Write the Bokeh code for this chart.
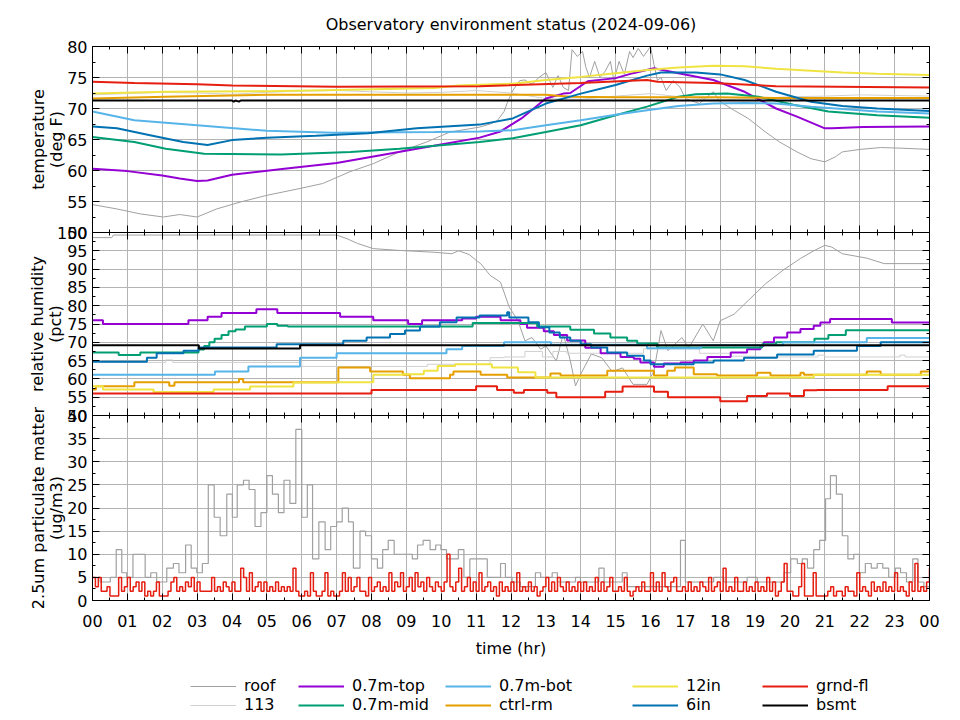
from bokeh.plotting import figure
from bokeh.models import Range1d, FixedTicker, LinearAxis, Legend, LegendItem
from bokeh.layouts import column
from bokeh.embed import file_html
from bokeh.resources import INLINE

FONT = "DejaVu Sans"
TITLE = "Observatory environment status (2024-09-06)"

# ---------------- series names / colours ----------------
NAMES = ["roof", "113", "0.7m-top", "0.7m-mid", "0.7m-bot", "ctrl-rm", "12in", "6in", "grnd-fl", "bsmt"]
COLORS = ["#a0a0a0", "#d0d0d0", "#9400d3", "#009e73", "#56b4e9", "#e69f00", "#f0e442", "#0072b2", "#e51e10", "#000000"]
WIDTHS = [1, 1, 2, 2, 2, 2, 2, 2, 2, 2]

# ---------------- axis ticks ----------------
HOUR_TICKS = list(range(25))
HOUR_MINOR = [h + 0.5 for h in range(24)]
HOUR_LABELS = {h: "%02d" % (h % 24) for h in HOUR_TICKS}
TEMP_TICKS = [50, 55, 60, 65, 70, 75, 80]
HUM_TICKS = [50, 55, 60, 65, 70, 75, 80, 85, 90, 95, 100]
PM_TICKS = [0, 5, 10, 15, 20, 25, 30, 35, 40]

# ---------------- temperature (deg F): (hour, value) ----------------
ROOF_T = [(0, 54.5), (0.7, 53.8), (1.37, 53.0), (2.03, 52.5), (2.5, 52.9), (3.0, 52.5), (3.56, 53.8),
          (4.23, 54.9), (5.0, 56.0), (5.95, 57.1), (6.6, 57.9), (7.38, 59.8), (8.05, 61.1), (8.8, 63.0),
          (9.58, 64.6), (10.25, 66.2), (11.1, 67.0), (11.4, 67.5), (11.6, 68.0), (11.8, 69.5), (11.9, 71.0),
          (12.05, 72.9), (12.25, 74.5), (12.4, 74.6), (12.6, 73.9), (12.8, 75.0), (13.0, 75.8), (13.2, 73.4),
          (13.35, 75.3), (13.5, 73.4), (13.65, 72.9), (13.75, 79.5), (13.9, 78.4), (14.05, 79.2), (14.15, 76.6),
          (14.25, 75.0), (14.4, 77.6), (14.55, 75.0), (14.7, 76.0), (14.85, 77.6), (14.95, 74.5), (15.1, 77.6),
          (15.25, 75.5), (15.4, 79.2), (15.5, 78.2), (15.65, 79.7), (15.8, 78.4), (16.0, 80.0), (16.1, 77.1),
          (16.2, 74.5), (16.3, 75.0), (16.45, 72.9), (16.65, 74.5), (16.85, 73.4), (17.0, 71.6), (17.4, 70.8),
          (17.8, 72.7), (18.0, 71.1), (18.4, 69.7), (18.8, 68.4), (19.3, 66.2), (19.7, 64.6), (20.2, 63.0),
          (20.6, 61.9), (21.0, 61.4), (21.3, 62.2), (21.5, 63.0), (22.0, 63.4), (22.6, 63.7), (23.2, 63.6),
          (24.0, 63.4)]
R113_T = [(0, 72.2), (1, 72.4), (2, 72.6), (3, 72.5), (4, 72.3), (5, 72.6), (6, 72.8), (7, 72.9), (8, 72.7),
          (9, 72.5), (10, 72.6), (11, 72.9), (12, 72.5), (13, 71.6), (14, 71.5), (15, 72.0), (16, 72.4),
          (17, 71.8), (18, 71.4), (19, 71.6), (20, 71.9), (21, 72.0), (22, 72.2), (23, 72.1), (24, 72.0)]
TOP_T = [(0, 60.3), (1.0, 59.9), (2.0, 59.2), (2.5, 58.7), (3.0, 58.3), (3.3, 58.4), (4.0, 59.3), (5.5, 60.3),
         (7.0, 61.2), (8.3, 62.5), (9.3, 63.5), (10.2, 64.4), (11.1, 65.3), (11.7, 66.3), (12.3, 68.4),
         (13.0, 71.6), (13.5, 72.4), (13.7, 72.5), (14.2, 74.4), (15.0, 74.9), (15.5, 75.7), (16.1, 76.5),
         (16.8, 75.7), (17.8, 74.6), (18.7, 72.7), (19.6, 70.0), (20.2, 68.7), (21.0, 66.8), (21.2, 66.8),
         (22.1, 67.0), (24.0, 67.1)]
MID_T = [(0, 65.4), (1.2, 64.6), (2.1, 63.5), (3.2, 62.7), (5.4, 62.6), (7.4, 63.0), (8.8, 63.5), (11.1, 64.6),
         (12.05, 65.2), (13.0, 66.2), (14.0, 67.3), (15.0, 68.9), (15.9, 70.3), (16.8, 71.9), (17.3, 72.3),
         (18.2, 72.4), (19.1, 71.9), (20.1, 70.6), (21.1, 69.5), (22.5, 68.9), (24.0, 68.5)]
BOT_T = [(0, 69.5), (1.2, 68.1), (3.0, 67.3), (5.0, 66.4), (6.9, 66.1), (9.8, 66.2), (11.1, 66.3), (12.05, 66.5),
         (13.0, 67.3), (14.0, 68.1), (15.0, 69.0), (15.9, 69.7), (16.8, 70.4), (17.8, 70.8), (18.7, 70.9),
         (19.6, 70.8), (20.6, 70.3), (21.5, 69.9), (22.5, 69.5), (24.0, 69.2)]
CTRL_T = [(0, 71.6), (2.1, 71.9), (5.0, 72.2), (11.1, 72.2), (13.0, 72.2), (13.7, 71.9), (15.0, 71.8),
          (17.8, 71.8), (19.6, 71.7), (24.0, 71.7)]
IN12_T = [(0, 72.4), (2.1, 72.7), (5.0, 72.8), (7.0, 73.0), (9.8, 73.3), (10.5, 73.7), (12.05, 74.0),
          (13.0, 74.6), (14.0, 75.1), (15.0, 75.7), (15.9, 76.2), (16.8, 76.6), (17.8, 76.9), (18.7, 76.8),
          (19.6, 76.4), (20.6, 76.1), (21.5, 75.8), (22.5, 75.6), (24.0, 75.4)]
IN6_T = [(0, 67.1), (0.7, 66.8), (1.65, 65.7), (2.6, 64.6), (3.3, 64.1), (4.0, 64.9), (5.0, 65.3), (6.4, 65.6),
         (7.9, 66.0), (9.3, 66.8), (11.1, 67.4), (12.05, 68.4), (13.0, 70.8), (14.0, 72.4), (15.0, 73.8),
         (15.9, 75.3), (16.3, 75.8), (17.3, 75.8), (18.0, 75.5), (18.7, 74.6), (19.6, 72.7), (20.6, 71.1),
         (21.5, 70.4), (22.5, 70.0), (24.0, 69.6)]
GRND_T = [(0, 74.3), (1.2, 74.1), (3.0, 73.9), (4.0, 73.7), (7.0, 73.5), (11.1, 73.6), (14.0, 74.1),
          (15.9, 74.6), (16.2, 74.3), (17.8, 74.1), (19.6, 73.6), (24.0, 73.4)]
BSMT_T = [(0, 71.3), (4.0, 71.3), (4.05, 71.1), (4.1, 71.3), (4.2, 71.1), (4.25, 71.3), (24.0, 71.3)]

# ---------------- relative humidity (pct): (hour, value) ----------------
ROOF_H = [(0, 98.6), (0.55, 98.6), (0.6, 99.3), (7.0, 99.3), (7.3, 98.3), (7.6, 97.0), (8.05, 95.6),
          (8.8, 95.1), (9.8, 94.6), (10.3, 94.2), (10.5, 95.0), (10.8, 94.0), (11.0, 92.4), (11.13, 91.5),
          (11.4, 88.3), (11.7, 86.4), (11.95, 79.6), (12.2, 75.9), (12.4, 70.4), (12.6, 71.3), (12.85, 68.1),
          (13.0, 69.0), (13.3, 64.9), (13.5, 72.3), (13.7, 65.0), (13.85, 58.1), (14.0, 61.3), (14.3, 66.8),
          (14.6, 65.8), (14.9, 62.0), (15.2, 63.0), (15.5, 58.5), (15.9, 58.5), (16.1, 62.2), (16.3, 73.2),
          (16.5, 67.7), (16.9, 71.3), (17.1, 68.5), (17.5, 75.0), (17.8, 70.4), (18.0, 75.9), (18.4, 77.7),
          (18.8, 81.4), (19.3, 86.0), (19.8, 89.7), (20.3, 92.9), (20.7, 95.1), (21.0, 96.5), (21.2, 96.0),
          (21.5, 94.2), (22.2, 93.0), (22.7, 91.5), (24.0, 91.5)]
R113_H = [(0, 65.0), (0.25, 64.5), (2.0, 64.5), (2.1, 65.2), (2.3, 64.5), (6.0, 63.4), (9.5, 63.4), (9.6, 64.0),
          (11.0, 64.0), (11.4, 65.8), (11.8, 66.0), (12.4, 67.5), (12.9, 66.0), (13.2, 67.5), (13.6, 67.0),
          (15.3, 67.0), (15.8, 68.2), (17.4, 67.0), (18.3, 66.2), (19.0, 66.0), (20.8, 66.5), (21.0, 66.0),
          (23.0, 66.0), (23.15, 66.5), (23.3, 66.0), (24.0, 66.0)]
TOP_H = [(0, 76), (0.3, 75), (2.75, 76), (3.3, 77), (3.7, 78), (4.7, 79), (5.3, 78), (7.1, 77), (8.05, 76),
         (9.05, 75), (9.45, 76), (10.6, 76.5), (11.0, 77), (11.7, 76), (12.27, 75), (12.46, 74), (12.94, 73),
         (13.23, 72), (13.61, 70.5), (14.13, 68.5), (14.57, 67), (15.14, 66), (15.52, 65.5), (15.71, 64.5),
         (16.1, 63.3), (16.38, 64.2), (16.86, 64.5), (17.24, 65), (17.63, 66), (18.3, 67.2), (18.77, 68.1),
         (19.15, 69), (19.25, 70), (19.54, 71.3), (19.92, 72.7), (20.3, 73.6), (20.68, 74.5), (20.87, 75.4),
         (21.15, 76.4), (22.92, 75.4), (24.0, 75.4)]
MID_H = [(0, 67.2), (0.75, 66.5), (1.37, 67.2), (3.04, 68), (3.2, 69), (3.35, 70), (3.5, 71), (3.7, 72),
         (3.9, 73), (4.1, 73.5), (4.37, 74.3), (5.0, 75), (5.3, 74.5), (5.6, 74.3), (10.9, 75.3), (12.75, 74.3),
         (13.7, 73.4), (14.38, 72.4), (14.85, 71.3), (15.33, 70.4), (15.62, 69.7), (16.19, 68.6), (19.2, 69.5),
         (19.6, 70), (20.7, 71), (21.1, 72), (21.6, 73.3), (24.0, 73.3)]
BOT_H = [(0, 61.1), (3.51, 62), (4.47, 63.4), (5.95, 65.8), (7.0, 67), (10.15, 68.1), (10.6, 69), (11.8, 70),
         (13.15, 69.3), (15.9, 68.4), (17.45, 69.2), (19.8, 70), (22.2, 71.2), (24.0, 71.2)]
CTRL_H = [(0, 57.1), (0.1, 58), (1.2, 59.1), (2.2, 58.1), (2.35, 59.1), (4.2, 60), (4.32, 59.1), (7.05, 63.1),
          (7.96, 62), (8.9, 61.1), (9.1, 60.2), (10.25, 61.1), (10.35, 62), (11.13, 61.1), (11.89, 60.4),
          (13.13, 61.5), (13.42, 60.9), (14.76, 62.2), (16.1, 60.9), (16.48, 62.2), (16.7, 63.1), (17.24, 61.3),
          (17.91, 60.9), (19.06, 61.7), (19.44, 60.9), (20.3, 61.7), (20.4, 61.1), (22.2, 62), (22.6, 61.1),
          (23.75, 62), (24.0, 62)]
IN12_H = [(0, 58), (0.3, 57.1), (1.75, 56.4), (3.47, 57.1), (4.52, 57.9), (5.76, 59), (7.0, 59.1), (8.05, 61.1),
          (8.9, 61.3), (9.5, 62.2), (9.9, 63.5), (10.4, 64), (11.45, 63.1), (12.2, 61.8), (12.7, 60.4),
          (20.68, 61.1), (24.0, 61.1)]
IN6_H = [(0, 64.7), (1.56, 65.8), (1.84, 67), (2.61, 67.7), (3.04, 68.6), (5.28, 69.5), (7.19, 70.4),
         (7.86, 71.3), (8.53, 72.3), (8.96, 73.2), (9.39, 74.3), (9.96, 75.5), (10.44, 76.8), (11.1, 77.3),
         (11.89, 78.2), (11.95, 76.8), (12.5, 75.5), (12.8, 74.1), (13.1, 72.7), (13.4, 71.3), (13.7, 70.4),
         (14.0, 69.5), (14.3, 68.6), (14.76, 67.2), (15.33, 66.3), (15.81, 65), (16.0, 64), (17.24, 64.5),
         (17.81, 65), (18.68, 65.8), (19.63, 66.7), (20.68, 67.7), (21.92, 69), (22.6, 70), (24.0, 70)]
GRND_H = [(0, 56), (8.0, 57), (11.0, 58), (11.6, 57), (12.08, 56.2), (12.37, 57), (13.04, 56.2), (13.3, 55),
          (14.7, 56.5), (15.2, 57.9), (16.1, 56.5), (16.5, 55), (18.0, 53.9), (18.77, 55.3), (19.34, 56),
          (20.0, 55.3), (20.4, 56.9), (20.77, 57), (22.8, 58), (24.0, 58)]
BSMT_H = [(0, 69.2), (3.05, 68.3), (5.95, 69.2), (24.0, 69.2)]

# ---------------- 2.5um particulate matter (ug/m3) ----------------
ROOF_PM = [(0, 5), (0.22, 4), (0.51, 5), (0.68, 11), (0.84, 6), (0.98, 5), (1.16, 10), (1.51, 5), (1.67, 6),
           (1.84, 4), (2.13, 7), (2.32, 8), (2.48, 6), (2.67, 12), (2.83, 7), (2.99, 6), (3.15, 8), (3.32, 25),
           (3.49, 18), (3.66, 14), (3.85, 23), (4.01, 18), (4.15, 25), (4.33, 26), (4.49, 24), (4.66, 16),
           (4.83, 19), (5.0, 27), (5.16, 23), (5.33, 19), (5.49, 26), (5.66, 21), (5.83, 37), (6.0, 18),
           (6.16, 25), (6.31, 9), (6.49, 17), (6.67, 11), (6.83, 16), (7.0, 17), (7.16, 20), (7.34, 17),
           (7.48, 7), (7.67, 15), (7.83, 14), (8.0, 9), (8.17, 7), (8.32, 11), (8.48, 13), (8.65, 10), (9.17, 9),
           (9.32, 12), (9.48, 13), (9.68, 11), (9.84, 12), (9.99, 11), (10.15, 9), (10.49, 11), (10.65, 5),
           (10.82, 9), (11.32, 5), (11.7, 8), (11.84, 5), (12.03, 4), (12.27, 3), (12.7, 6), (12.85, 5),
           (13.18, 6), (13.33, 4), (13.85, 5), (13.99, 4), (14.52, 7), (14.67, 4), (15.19, 6), (15.33, 3),
           (16.86, 13), (17.0, 4), (17.81, 5), (18.1, 4), (18.77, 5), (19.06, 4), (19.83, 6), (20.02, 9),
           (20.21, 8), (20.35, 9), (20.5, 7), (20.68, 11), (20.85, 13), (21.02, 22), (21.16, 27), (21.33, 23),
           (21.5, 14), (21.66, 9), (21.83, 10), (21.99, 6), (22.16, 8), (22.33, 7), (22.5, 8), (22.66, 7),
           (22.83, 5), (23.02, 7), (23.17, 6), (23.34, 4), (23.52, 9), (23.67, 4), (23.84, 3), (24.0, 3)]
# grnd-fl PM, one reading every 5 minutes (12 per hour), hours 00..23, then midnight
GRND_PM = [
    5, 3, 5, 2, 2, 3, 1, 1, 1, 5, 2, 3,
    5, 2, 3, 4, 2, 4, 1, 2, 1, 2, 4, 1,
    1, 1, 2, 4, 5, 2, 3, 2, 4, 3, 5, 2,
    4, 2, 2, 2, 2, 5, 2, 3, 2, 4, 3, 2,
    4, 2, 2, 7, 5, 2, 6, 2, 3, 4, 2, 4,
    2, 3, 2, 4, 2, 3, 2, 3, 2, 7, 2, 1,
    1, 2, 1, 6, 2, 1, 1, 2, 6, 1, 2, 1,
    1, 2, 6, 2, 5, 2, 3, 5, 2, 2, 1, 5,
    2, 3, 4, 2, 3, 2, 6, 2, 4, 3, 6, 2,
    3, 5, 2, 6, 3, 4, 2, 5, 3, 2, 4, 3,
    2, 4, 10, 3, 2, 4, 7, 2, 3, 5, 2, 4,
    2, 6, 2, 3, 4, 2, 3, 1, 4, 2, 3, 2,
    4, 2, 6, 2, 3, 2, 4, 2, 3, 1, 2, 3,
    5, 2, 4, 2, 5, 3, 2, 4, 2, 3, 2, 4,
    2, 4, 2, 3, 2, 5, 2, 4, 2, 3, 5, 2,
    2, 3, 2, 5, 2, 1, 2, 3, 2, 4, 2, 2,
    6, 2, 4, 2, 6, 3, 2, 4, 5, 2, 2, 3,
    2, 4, 2, 3, 2, 4, 3, 2, 5, 2, 3, 4,
    2, 7, 2, 3, 2, 5, 2, 2, 4, 2, 3, 2,
    4, 2, 3, 2, 5, 2, 4, 1, 2, 4, 8, 2,
    2, 1, 1, 3, 8, 1, 1, 1, 6, 1, 1, 1,
    1, 2, 3, 1, 2, 2, 1, 3, 2, 2, 1, 6,
    2, 3, 2, 1, 4, 2, 3, 2, 4, 2, 3, 2,
    6, 2, 3, 2, 1, 4, 2, 8, 2, 3, 2, 4,
    7,
]
GRND_PM_HR = [i / 12 for i in range(len(GRND_PM))]

TEMP_SERIES = [ROOF_T, R113_T, TOP_T, MID_T, BOT_T, CTRL_T, IN12_T, IN6_T, GRND_T, BSMT_T]
HUM_SERIES = [ROOF_H, R113_H, TOP_H, MID_H, BOT_H, CTRL_H, IN12_H, IN6_H, GRND_H, BSMT_H]


def xy(pairs):
    return [p[0] for p in pairs], [p[1] for p in pairs]


XR = Range1d(0, 24)
FRAME_W = 837
LEFT = 92
RIGHT = 15


def style_axis(ax, labels):
    ax.major_tick_in = 7
    ax.major_tick_out = 0
    ax.minor_tick_in = 3
    ax.minor_tick_out = 0
    ax.axis_line_color = "black"
    ax.major_tick_line_color = "black"
    ax.minor_tick_line_color = "black"
    ax.major_label_text_font = FONT
    ax.axis_label_text_font = FONT
    ax.axis_label_text_font_style = "normal"
    ax.axis_label_text_font_size = "16px"
    ax.axis_label_text_color = "black"
    ax.axis_label_text_line_height = 0.95
    if labels:
        ax.major_label_text_font_size = "16px"
        ax.major_label_text_color = "black"
    else:
        ax.major_label_text_font_size = "1px"
        ax.major_label_text_color = None
        ax.major_label_standoff = 0


def panel(yr, yticks, ylabel, frame_h, top, bottom, label_standoff, xlabels=False):
    p = figure(x_range=XR, y_range=yr, frame_width=FRAME_W, frame_height=frame_h,
               output_backend="svg", toolbar_location=None, tools="",
               min_border_left=LEFT, min_border_right=RIGHT, min_border_top=top, min_border_bottom=bottom,
               border_fill_color=None, outline_line_color="black", background_fill_color="white")
    xt = FixedTicker(ticks=HOUR_TICKS, minor_ticks=HOUR_MINOR)
    step = yticks[1] - yticks[0]
    yt = FixedTicker(ticks=yticks, minor_ticks=[v + step / 2 for v in yticks[:-1]])
    p.xaxis.ticker = xt
    p.yaxis.ticker = yt
    for ax in p.xaxis:
        style_axis(ax, xlabels)
        if xlabels:
            ax.major_label_overrides = HOUR_LABELS
            ax.major_label_standoff = 14
            ax.axis_label = "time (hr)"
            ax.axis_label_standoff = 9
    for ax in p.yaxis:
        style_axis(ax, True)
        ax.axis_label = ylabel
        ax.axis_label_standoff = label_standoff
    top_ax = LinearAxis(ticker=xt)
    style_axis(top_ax, False)
    p.add_layout(top_ax, "above")
    right_ax = LinearAxis(ticker=yt)
    style_axis(right_ax, False)
    p.add_layout(right_ax, "right")
    p.grid.grid_line_color = "#b4b4b4"
    p.grid.grid_line_width = 1
    return p


# ---- temperature ----
p1 = panel(Range1d(50, 80), TEMP_TICKS, "temperature\n(deg F)", 186, 45, 10, -2)
p1.title.text = TITLE
p1.title.align = "center"
p1.title.text_font = FONT
p1.title.text_font_size = "16px"
p1.title.text_font_style = "normal"
p1.title.text_color = "black"
p1.title.standoff = 25
for pairs, c, w in zip(TEMP_SERIES, COLORS, WIDTHS):
    xs, ys = xy(pairs)
    p1.line(xs, ys, line_color=c, line_width=w)

# ---- humidity ----
p2 = panel(Range1d(50, 100), HUM_TICKS, "relative humidity\n(pct)", 183, 10, 10, -11)
p2.margin = (-20, 0, 0, 0)
for i, (pairs, c, w) in enumerate(zip(HUM_SERIES, COLORS, WIDTHS)):
    xs, ys = xy(pairs)
    if i == 0:
        p2.line(xs, ys, line_color=c, line_width=w)
    else:
        p2.step(xs, ys, mode="after", line_color=c, line_width=w)

# ---- particulate matter ----
p3 = panel(Range1d(0, 40), PM_TICKS, "2.5um particulate matter\n(ug/m3)", 185, 16, 10, -2, xlabels=True)
p3.margin = (-26, 0, 0, 0)
xs, ys = xy(ROOF_PM)
p3.step(xs, ys, mode="after", line_color=COLORS[0], line_width=1.2)
p3.step(GRND_PM_HR, GRND_PM, mode="after", line_color=COLORS[8], line_width=1.5)

# ---- key (series drawn again here outside the visible range, used only as legend samples) ----
p4 = figure(x_range=Range1d(0, 1), y_range=Range1d(0, 1), frame_width=FRAME_W, frame_height=64,
            output_backend="svg", toolbar_location=None, tools="",
            x_axis_location=None, y_axis_location=None,
            min_border_left=LEFT, min_border_right=RIGHT, min_border_top=0, min_border_bottom=0,
            border_fill_color=None, outline_line_color=None, background_fill_color=None)
p4.xgrid.visible = False
p4.ygrid.visible = False
key_items = []
for name, pairs, c, w in zip(NAMES, TEMP_SERIES, COLORS, WIDTHS):
    xs, ys = xy(pairs)
    r = p4.line(xs, ys, line_color=c, line_width=w)
    key_items.append(LegendItem(label=name, renderers=[r]))

KEY_COLUMN_X = [98, 206, 353, 540, 670]
for col, x0 in enumerate(KEY_COLUMN_X):
    leg = Legend(items=key_items[2 * col:2 * col + 2], orientation="vertical", location=(x0, 10),
                 label_text_font=FONT, label_text_font_size="16px", label_text_color="black",
                 glyph_width=46, glyph_height=16, label_height=18, label_standoff=8, spacing=0,
                 border_line_color=None, background_fill_alpha=0, padding=0, margin=0)
    p4.add_layout(leg, "center")

layout = column(p1, p2, p3, p4, spacing=0)
open("out.html", "w").write(file_html(layout, INLINE, title="Observatory environment status"))
